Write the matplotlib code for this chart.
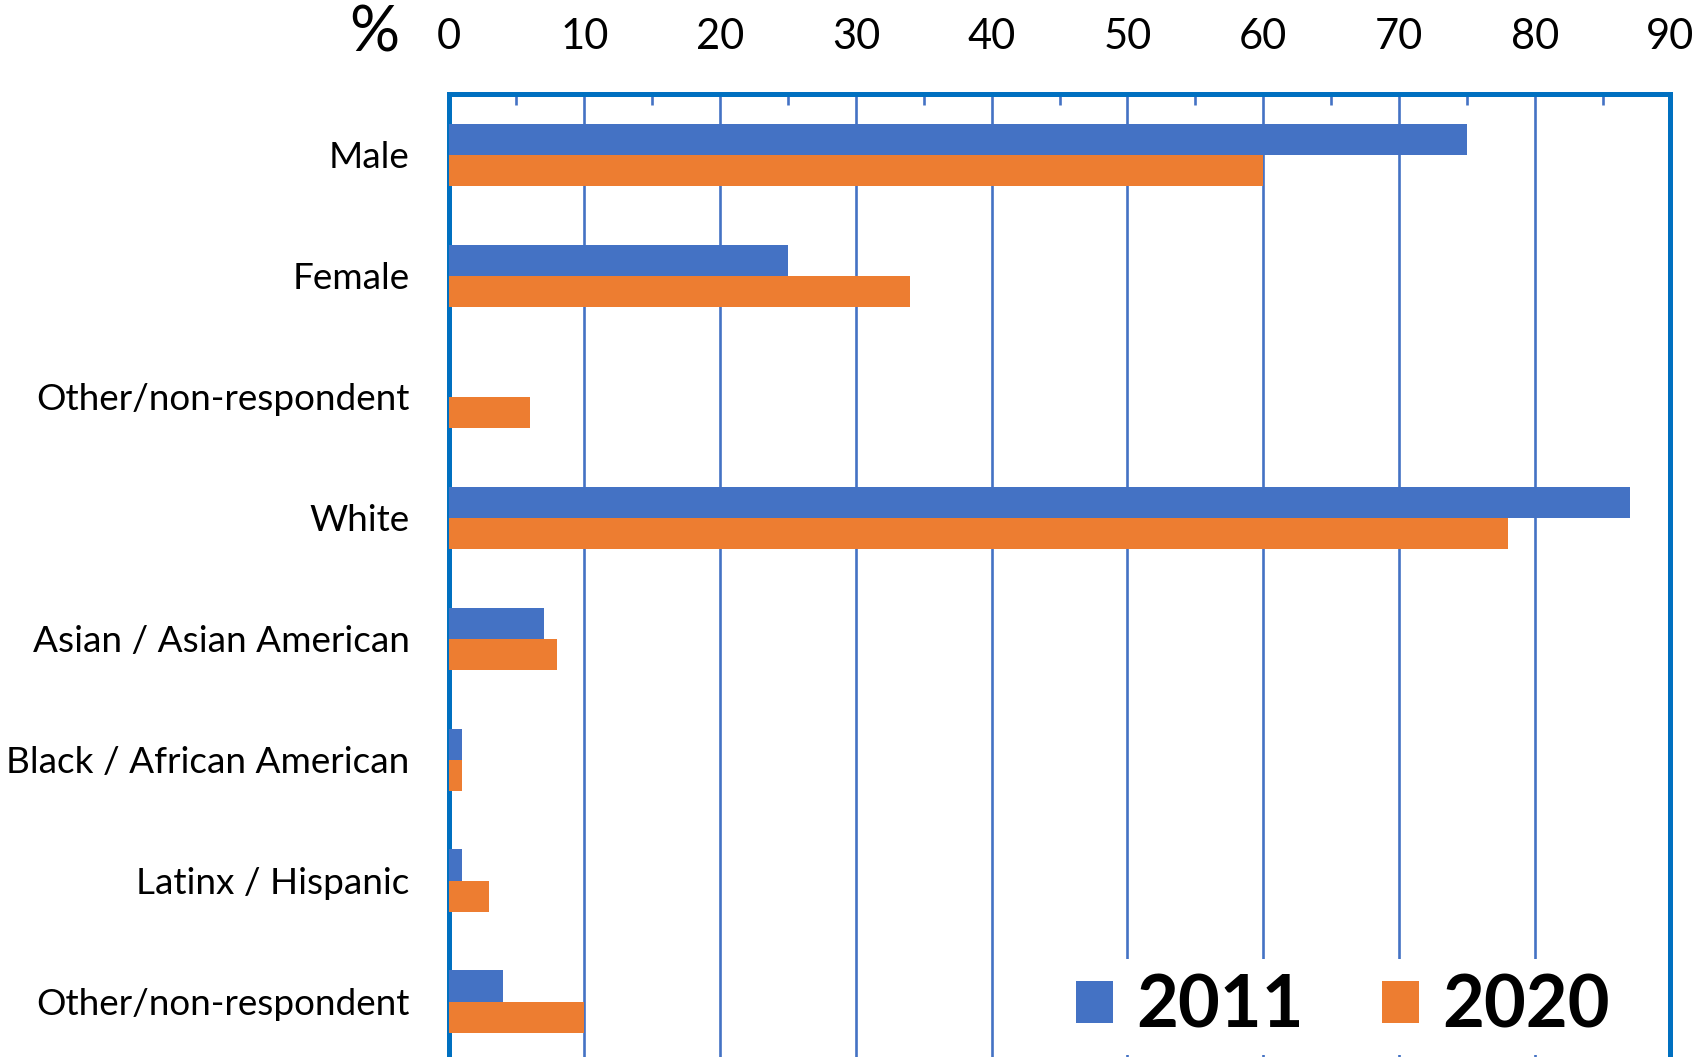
import matplotlib
matplotlib.use("Agg")
import matplotlib.pyplot as plt
import numpy as np
from matplotlib.ticker import MultipleLocator

plt.rcParams['font.family'] = ['Lato', 'DejaVu Sans']

# Demographics, percent of respondents
categories = ['Male', 'Female', 'Other/non-respondent', 'White',
              'Asian / Asian American', 'Black / African American',
              'Latinx / Hispanic', 'Other/non-respondent']
pct_2011 = [75, 25, 0, 87, 7, 1, 1, 4]
pct_2020 = [60, 34, 6, 78, 8, 1, 3, 10]
years = ['2011', '2020']

blue = '#4472C4'
orange = '#ED7D31'
frame = '#0070C0'

fig = plt.figure(figsize=(17.03, 10.57), dpi=100)
ax = fig.add_axes([0.2634, -0.0047, 0.7175, 0.9153])

y = np.arange(len(categories))
h = 0.257
b1 = ax.barh(y - h / 2, pct_2011, height=h, color=blue, label=years[0], zorder=3)
b2 = ax.barh(y + h / 2, pct_2020, height=h, color=orange, label=years[1], zorder=3)

ax.set_xlim(0, 90)
ax.set_ylim(len(categories) - 0.5, -0.5)

# value axis along the top
ax.xaxis.tick_top()
ax.xaxis.set_major_locator(MultipleLocator(10))
ax.xaxis.set_minor_locator(MultipleLocator(5))
ax.tick_params(axis='x', which='major', length=0, labelsize=30, pad=28,
               labelcolor='black')
ax.tick_params(axis='x', which='minor', direction='in', length=8, width=1.9,
               color=blue, top=True, bottom=False)
ax.grid(axis='x', which='major', color=blue, linewidth=1.9, zorder=1)

ax.set_yticks(y)
ax.set_yticklabels(categories)
ax.tick_params(axis='y', length=0, labelsize=26.6, pad=28)

for side in ['top', 'right', 'left', 'bottom']:
    ax.spines[side].set_color(frame)
    ax.spines[side].set_linewidth(3.6)

fig.text(0.2196, 0.968, '%', fontsize=45, ha='center', va='center')

leg = fig.legend(handles=[b1, b2], labels=years, loc='center',
                 bbox_to_anchor=(0.7885, 0.047), ncol=2,
                 prop={'size': 52, 'weight': 'bold'},
                 frameon=True, facecolor='white', edgecolor='none',
                 framealpha=1, handlelength=0.52, handleheight=0.52,
                 handletextpad=0.32, columnspacing=1.08, borderpad=0.2)

fig.savefig('out.png', dpi=100)
